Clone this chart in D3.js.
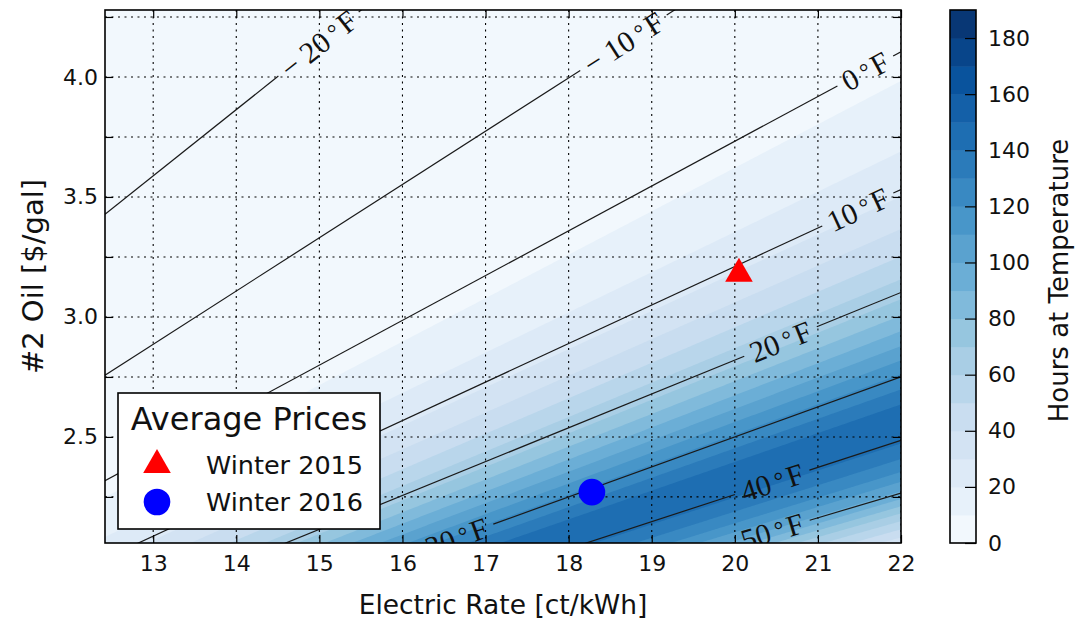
<!DOCTYPE html>
<html>
<head>
<meta charset="utf-8">
<script src="https://cdn.jsdelivr.net/npm/d3@7"></script>
<style>
  body { margin: 0; background: #fff; }
  svg { font-family: "DejaVu Sans", sans-serif; }
</style>
</head>
<body>
<svg id="root" width="1077" height="622"></svg>
<script>
// break-even temperature lines, slope = oil price / electric rate
const lineTemps = [-20, -10, 0, 10, 20, 30, 40, 50];
const lineSlopes = [0.276, 0.222, 0.1866, 0.1605, 0.141, 0.125, 0.113, 0.103];
const labelRates = [14.99, 18.66, 21.57, 21.48, 20.55, 16.65, 20.45, 20.45];

// hours spent at each outdoor temperature
const hourTemps = [-30, -20, -10, 0, 5, 10, 15, 20, 25, 30, 35, 40, 45, 50, 55, 60, 65];
const hourValues = [0, 2, 4, 7, 15, 28, 45, 66, 94, 122, 144, 142, 124, 98, 66, 40, 22];

const hourLevels = d3.range(0, 200, 10);
const cbarTicks = d3.range(0, 200, 20);

const seasons = ['Winter 2015', 'Winter 2016'];
const seasonRates = [20.05, 18.28];
const seasonOil = [3.18, 2.27];
const seasonColors = ['#ff0000', '#0000ff'];

const xTicks = d3.range(13, 23);
const yTicks = d3.range(2.25, 4.26, 0.25);

const x = d3.scaleLinear().domain([12.42, 22.0]).range([105, 901]);
const y = d3.scaleLinear().domain([2.058, 4.279]).range([543, 10]);
const cb = d3.scaleLinear().domain([0, 190]).range([543, 10]);

const blues = d3.scaleLinear()
    .domain(d3.range(9).map(i => i / 8))
    .range(d3.schemeBlues[9]);
const topLevel = hourLevels[hourLevels.length - 1];
const bandColor = lv => blues((lv + 5) / topLevel);

const tempOf = d3.scaleLinear().domain(lineSlopes.map(s => 1 / s)).range(lineTemps);
const hoursOf = d3.scaleLinear().domain(hourTemps).range(hourValues).clamp(true);

const svg = d3.select('#root');
const x0 = x.range()[0], x1 = x.range()[1];
const y0 = y.range()[1], y1 = y.range()[0];

svg.append('clipPath').attr('id', 'plotclip')
    .append('rect')
    .attr('x', x0).attr('y', y0)
    .attr('width', x1 - x0).attr('height', y1 - y0);

const plot = svg.append('g').attr('clip-path', 'url(#plotclip)');

// filled contours of hours at break-even temperature
const cell = 2, pad = 4;
const nx = Math.ceil((x1 - x0) / cell) + 2 * pad;
const ny = Math.ceil((y1 - y0) / cell) + 2 * pad;
const values = new Float64Array(nx * ny);
for (let j = 0; j < ny; j++) {
    const oil = y.invert(y0 + (j - pad + 0.5) * cell);
    for (let i = 0; i < nx; i++) {
        const rate = x.invert(x0 + (i - pad + 0.5) * cell);
        values[j * nx + i] = hoursOf(tempOf(rate / oil));
    }
}
const contours = d3.contours().size([nx, ny]).thresholds(hourLevels)(values);
const gridProj = d3.geoTransform({
    point(gx, gy) { this.stream.point(x0 + (gx - pad) * cell, y0 + (gy - pad) * cell); }
});
plot.append('rect')
    .attr('x', x0).attr('y', y0)
    .attr('width', x1 - x0).attr('height', y1 - y0)
    .attr('fill', bandColor(0));
plot.selectAll('path.band')
    .data(contours.filter(c => c.value < topLevel))
    .enter().append('path')
    .attr('class', 'band')
    .attr('d', d3.geoPath(gridProj))
    .attr('fill', d => bandColor(d.value));

// dotted grid
const grid = plot.append('g')
    .attr('stroke', '#000')
    .attr('stroke-width', 1.1)
    .attr('stroke-dasharray', '2,4.5');
grid.selectAll('line.gx').data(xTicks).enter().append('line')
    .attr('x1', d => x(d)).attr('x2', d => x(d))
    .attr('y1', y0).attr('y2', y1);
grid.selectAll('line.gy').data(yTicks).enter().append('line')
    .attr('y1', d => y(d)).attr('y2', d => y(d))
    .attr('x1', x0).attr('x2', x1);

// contour lines with inline labels
const lineLayer = plot.append('g');
const labelLayer = plot.append('g')
    .attr('font-family', '"Liberation Serif", "DejaVu Serif", serif')
    .attr('font-size', 30)
    .attr('fill', '#111');
const xd = x.domain();
lineTemps.forEach((t, i) => {
    const s = lineSlopes[i];
    const p0 = [x(xd[0]), y(s * xd[0])];
    const p1 = [x(xd[1]), y(s * xd[1])];
    const pc = [x(labelRates[i]), y(s * labelRates[i])];
    const len = Math.hypot(p1[0] - p0[0], p1[1] - p0[1]);
    const u = [(p1[0] - p0[0]) / len, (p1[1] - p0[1]) / len];
    const ang = Math.atan2(u[1], u[0]) * 180 / Math.PI;

    const label = labelLayer.append('text')
        .attr('text-anchor', 'middle')
        .attr('transform', `translate(${pc[0]},${pc[1]}) rotate(${ang})`)
        .attr('dy', '0.35em');
    label.append('tspan').text((t < 0 ? '\u2212 ' : '') + Math.abs(t));
    label.append('tspan').attr('dx', 5).attr('dy', -2).attr('font-size', '80%').text('\u00b0');
    label.append('tspan').attr('dx', 3).attr('dy', 2).text('F');
    const h = label.node().getBBox().width / 2 + 7;

    const segs = [
        [p0, [pc[0] - h * u[0], pc[1] - h * u[1]]],
        [[pc[0] + h * u[0], pc[1] + h * u[1]], p1]
    ];
    lineLayer.selectAll(null).data(segs).enter().append('path')
        .attr('d', d => d3.line()(d))
        .attr('fill', 'none')
        .attr('stroke', '#1a1a1a')
        .attr('stroke-width', 1.2);
});

// average price markers
const sym = [d3.symbol().type(d3.symbolTriangle).size(330), d3.symbol().type(d3.symbolCircle).size(560)];
svg.selectAll('path.season').data(seasons).enter().append('path')
    .attr('class', 'season')
    .attr('transform', (d, i) => `translate(${x(seasonRates[i])},${y(seasonOil[i])})`)
    .attr('d', (d, i) => sym[i]())
    .attr('fill', (d, i) => seasonColors[i]);

// axes (ticks pointing inward)
const xFmt = d3.format('d');
const yFmt = d => (Math.abs(d * 2 - Math.round(d * 2)) < 1e-9 ? d3.format('.1f')(d) : '');
const axB = svg.append('g').attr('transform', `translate(0,${y1})`)
    .call(d3.axisBottom(x).tickValues(xTicks).tickFormat(xFmt).tickSize(-8).tickPadding(12));
const axT = svg.append('g').attr('transform', `translate(0,${y0})`)
    .call(d3.axisTop(x).tickValues(xTicks).tickFormat('').tickSize(-8));
const axL = svg.append('g').attr('transform', `translate(${x0},0)`)
    .call(d3.axisLeft(y).tickValues(yTicks).tickFormat(yFmt).tickSize(-8).tickPadding(7));
const axR = svg.append('g').attr('transform', `translate(${x1},0)`)
    .call(d3.axisRight(y).tickValues(yTicks).tickFormat('').tickSize(-8));
[axB, axT, axL, axR].forEach(a => {
    a.select('.domain').remove();
    a.selectAll('line').attr('stroke', '#000').attr('stroke-width', 1.2);
    a.selectAll('text').attr('font-size', 22).attr('font-family', '"DejaVu Sans", sans-serif').attr('fill', '#111');
});
svg.append('rect')
    .attr('x', x0).attr('y', y0)
    .attr('width', x1 - x0).attr('height', y1 - y0)
    .attr('fill', 'none').attr('stroke', '#000').attr('stroke-width', 1.6);

svg.append('text')
    .attr('x', (x0 + x1) / 2).attr('y', 614)
    .attr('text-anchor', 'middle')
    .attr('font-size', 26.5).attr('fill', '#111')
    .text('Electric Rate [ct/kWh]');
svg.append('text')
    .attr('transform', `translate(43,${(y0 + y1) / 2}) rotate(-90)`)
    .attr('text-anchor', 'middle')
    .attr('font-size', 29).attr('fill', '#111')
    .text('#2 Oil [$/gal]');

// colorbar
const cbx = 950, cbw = 26;
svg.selectAll('rect.cband').data(hourLevels.slice(0, -1)).enter().append('rect')
    .attr('class', 'cband')
    .attr('x', cbx).attr('width', cbw)
    .attr('y', d => cb(d + 10)).attr('height', d => cb(d) - cb(d + 10) + 0.5)
    .attr('fill', d => bandColor(d));
const axC = svg.append('g').attr('transform', `translate(${cbx + cbw},0)`)
    .call(d3.axisRight(cb).tickValues(cbarTicks).tickSize(-11).tickPadding(12));
axC.select('.domain').remove();
axC.selectAll('line').attr('stroke', '#000').attr('stroke-width', 1.2);
axC.selectAll('text').attr('font-size', 22).attr('font-family', '"DejaVu Sans", sans-serif').attr('fill', '#111');
svg.append('rect')
    .attr('x', cbx).attr('y', cb(topLevel))
    .attr('width', cbw).attr('height', cb(0) - cb(topLevel))
    .attr('fill', 'none').attr('stroke', '#000').attr('stroke-width', 1.6);
svg.append('text')
    .attr('transform', `translate(1068,${(y0 + y1) / 2 + 4}) rotate(-90)`)
    .attr('text-anchor', 'middle')
    .attr('font-size', 26).attr('fill', '#111')
    .text('Hours at Temperature');

// legend
const lg = svg.append('g');
lg.append('rect')
    .attr('x', 118).attr('y', 393).attr('width', 262).attr('height', 136)
    .attr('fill', '#fff').attr('stroke', '#000').attr('stroke-width', 1.6);
lg.append('text')
    .attr('x', 249).attr('y', 430)
    .attr('text-anchor', 'middle')
    .attr('font-size', 32).attr('fill', '#111')
    .text('Average Prices');
const entry = lg.selectAll('g.entry').data(seasons).enter().append('g')
    .attr('transform', (d, i) => `translate(157,${465 + i * 37})`);
entry.append('path')
    .attr('d', (d, i) => sym[i]())
    .attr('fill', (d, i) => seasonColors[i]);
entry.append('text')
    .attr('x', 49).attr('y', 9)
    .attr('font-size', 25.5).attr('fill', '#111')
    .text(d => d);
</script>
</body>
</html>
